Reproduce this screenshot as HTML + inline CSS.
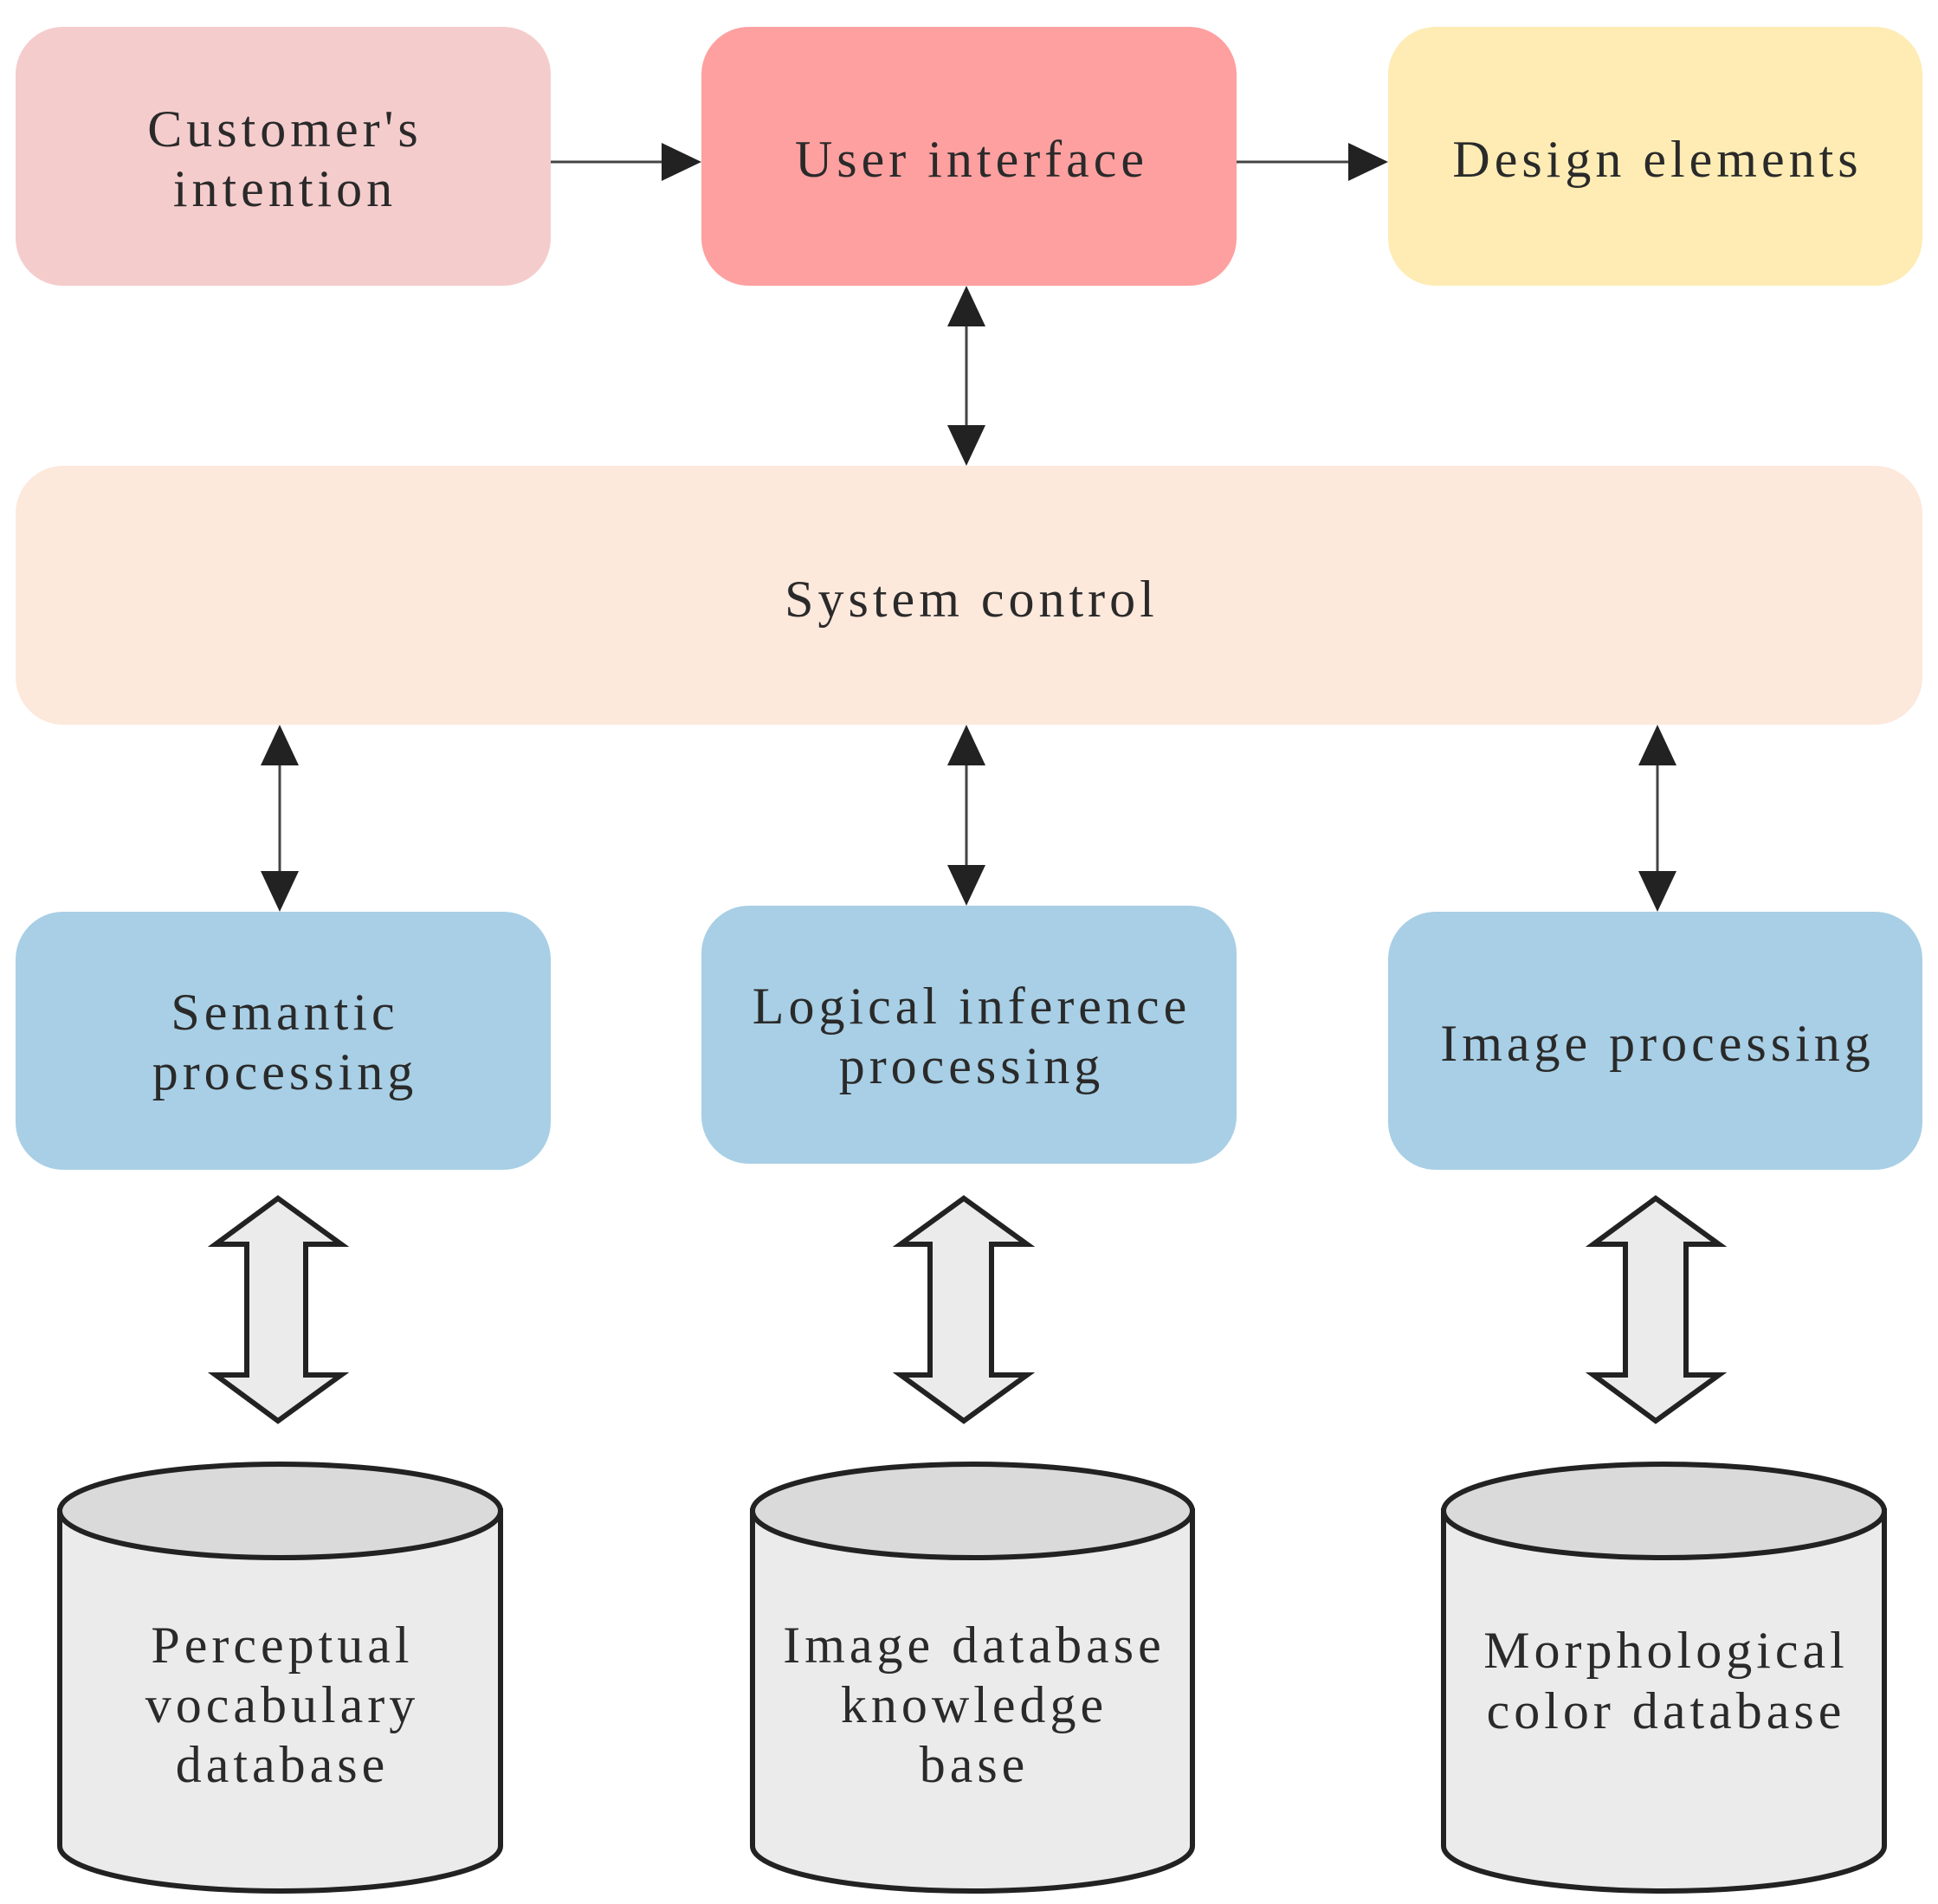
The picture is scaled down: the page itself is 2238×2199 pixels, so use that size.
<!DOCTYPE html>
<html><head><meta charset="utf-8"><style>
html,body{margin:0;padding:0;background:#fff;}
svg{display:block;}
text{font-family:"Liberation Serif",serif;font-size:60px;letter-spacing:5px;fill:#2a2a2a;text-anchor:middle;}
</style></head><body>
<svg width="2238" height="2199" viewBox="0 0 2238 2199" xmlns="http://www.w3.org/2000/svg">
<defs>
<marker id="ah" markerWidth="10" markerHeight="10" refX="10" refY="5" orient="auto-start-reverse" markerUnits="userSpaceOnUse" viewBox="0 0 10 10" style="overflow:visible">
</marker>
</defs>
<!-- boxes -->
<rect x="18" y="31" width="618" height="299" rx="55" fill="#f5cccc"/>
<rect x="810" y="31" width="618" height="299" rx="55" fill="#fea0a0"/>
<rect x="1603" y="31" width="617" height="299" rx="55" fill="#feecb4"/>
<rect x="18" y="538" width="2202" height="299" rx="55" fill="#fde8dc"/>
<rect x="18" y="1053" width="618" height="298" rx="55" fill="#a8cfe5"/>
<rect x="810" y="1046" width="618" height="298" rx="55" fill="#a8cfe5"/>
<rect x="1603" y="1053" width="617" height="298" rx="55" fill="#a8cfe5"/>

<!-- thin arrows -->
<g stroke="#444" stroke-width="3" fill="none">
<line x1="636" y1="187" x2="770" y2="187"/>
<line x1="1428" y1="187" x2="1563" y2="187"/>
<line x1="1116" y1="370" x2="1116" y2="498"/>
<line x1="323" y1="877" x2="323" y2="1013"/>
<line x1="1116" y1="877" x2="1116" y2="1006"/>
<line x1="1914" y1="877" x2="1914" y2="1013"/>
</g>
<g fill="#222">
<polygon points="810,187 764,165 764,209"/>
<polygon points="1603,187 1557,165 1557,209"/>
<polygon points="1116,330 1094,377 1138,377"/>
<polygon points="1116,538 1094,491 1138,491"/>
<polygon points="323,837 301,884 345,884"/>
<polygon points="323,1053 301,1006 345,1006"/>
<polygon points="1116,837 1094,884 1138,884"/>
<polygon points="1116,1046 1094,999 1138,999"/>
<polygon points="1914,837 1892,884 1936,884"/>
<polygon points="1914,1053 1892,1006 1936,1006"/>
</g>

<!-- block arrows -->
<g fill="#ebebeb" stroke="#222" stroke-width="6" stroke-linejoin="miter">
<polygon points="321,1384 394,1437 353,1437 353,1588 394,1588 321,1641 249,1588 285,1588 285,1437 249,1437"/>
<polygon points="1113,1384 1186,1437 1145,1437 1145,1588 1186,1588 1113,1641 1040,1588 1074,1588 1074,1437 1040,1437"/>
<polygon points="1912,1384 1985,1437 1947,1437 1947,1588 1985,1588 1912,1641 1840,1588 1877,1588 1877,1437 1840,1437"/>
</g>

<!-- cylinders -->
<g stroke="#222" stroke-width="6">
<path d="M69,1745 L69,2132 A254.5,52 0 0 0 578,2132 L578,1745 Z" fill="#ebebeb"/>
<ellipse cx="323.5" cy="1745" rx="254.5" ry="54" fill="#dadada"/>
<path d="M869,1745 L869,2132 A254,52 0 0 0 1377,2132 L1377,1745 Z" fill="#ebebeb"/>
<ellipse cx="1123" cy="1745" rx="254" ry="54" fill="#dadada"/>
<path d="M1667,1745 L1667,2132 A254.5,52 0 0 0 2176,2132 L2176,1745 Z" fill="#ebebeb"/>
<ellipse cx="1921.5" cy="1745" rx="254.5" ry="54" fill="#dadada"/>
</g>

<!-- labels -->
<text x="329" y="169">Customer's</text>
<text x="329" y="238">intention</text>
<text x="1122" y="204">User interface</text>
<text x="1914" y="204">Design elements</text>
<text x="1122" y="712">System control</text>
<text x="329" y="1189">Semantic</text>
<text x="329" y="1258">processing</text>
<text x="1122" y="1182">Logical inference</text>
<text x="1122" y="1251">processing</text>
<text x="1914" y="1225">Image processing</text>
<text x="326" y="1920">Perceptual</text>
<text x="326" y="1989">vocabulary</text>
<text x="326" y="2058">database</text>
<text x="1125" y="1920">Image database</text>
<text x="1125" y="1989">knowledge</text>
<text x="1125" y="2058">base</text>
<text x="1924" y="1926">Morphological</text>
<text x="1924" y="1996">color database</text>
</svg>
</body></html>
